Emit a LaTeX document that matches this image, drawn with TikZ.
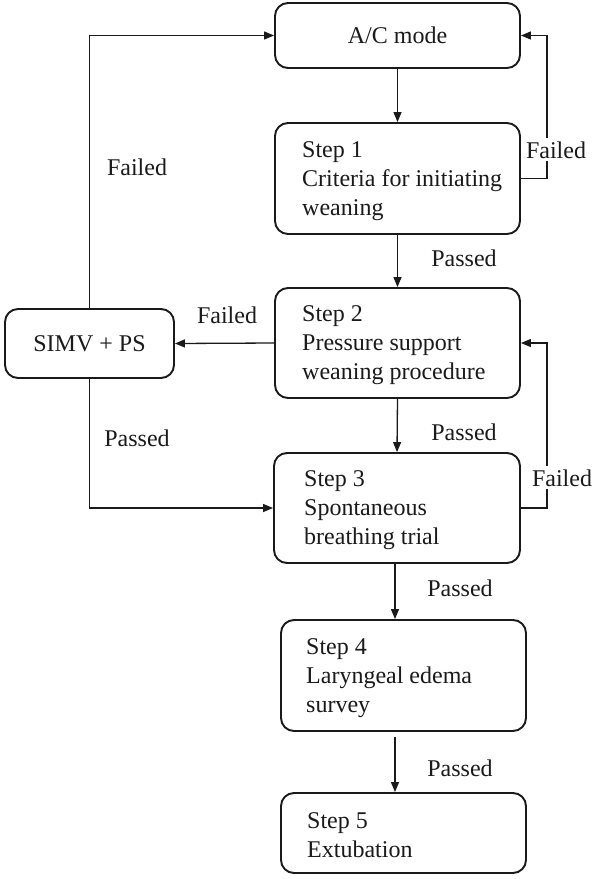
\documentclass[tikz,border=0pt]{standalone}
\usepackage{fontspec}
\setmainfont{Liberation Serif}
\newfontfamily\diagfont{Liberation Serif}
\usetikzlibrary{arrows.meta}
\definecolor{ink}{HTML}{1A1A1A}
\tikzset{
  box/.style={draw=ink, line width=1.9pt, rounded corners=13pt, inner sep=0pt},
  txt/.style={text=ink, font=\diagfont\fontsize{24}{29}\selectfont, align=left, inner sep=0pt},
  lbl/.style={text=ink, font=\diagfont\fontsize{24}{29}\selectfont, inner sep=0pt},
  lblw/.style={lbl, fill=white, inner xsep=2pt, inner ysep=3pt},
  conn/.style={draw=ink, line width=1.3pt},
  arr/.style={conn, -{Triangle[length=10pt,width=8pt]}}
}
\begin{document}
\begin{tikzpicture}[x=1pt,y=-1pt]
\useasboundingbox[fill=white] (0,0) rectangle (598,879);
% boxes
\node[box, minimum width=245, minimum height=65] (ac) at (397.5,35.5) {};
\node[lbl] (act) at (ac.center) {A/C mode};
\node[box, minimum width=245, minimum height=111] (s1) at (397.5,178.5) {};
\node[txt, anchor=west] (s1t) at (302,181) {Step 1\\Criteria for initiating\\weaning};
\node[box, minimum width=245, minimum height=110] (s2) at (397.5,343) {};
\node[txt, anchor=west] (s2t) at (302,345) {Step 2\\Pressure support\\weaning procedure};
\node[box, minimum width=169, minimum height=69] (simv) at (89.5,343.5) {};
\node[lbl] (simvt) at (simv.center) {SIMV + PS};
\node[box, minimum width=246, minimum height=110] (s3) at (397,508) {};
\node[txt, anchor=west] (s3t) at (304,510) {Step 3\\Spontaneous\\breathing trial};
\node[box, minimum width=245, minimum height=111] (s4) at (403.5,675.5) {};
\node[txt, anchor=west] (s4t) at (306,678) {Step 4\\Laryngeal edema\\survey};
\node[box, minimum width=245, minimum height=80] (s5) at (403.5,833) {};
\node[txt, anchor=west] (s5t) at (307,835) {Step 5\\Extubation};
% coordinates
\coordinate (lx) at (89.5,0);
\coordinate (rx) at (547,0);
% main flow
\draw[arr] (ac.south) -- (s1.north);
\draw[arr] (s1.south) -- (s2.north);
\draw[arr] (s2.south) -- (s3.north);
\draw[arr] ([xshift=-2pt]s3.south) -- ([xshift=-2pt]s3.south |- s4.north);
\draw[arr, shorten <=5pt] ([xshift=-8.5pt]s4.south) -- ([xshift=-8.5pt]s5.north);
% left branch
\draw[arr] (s2.west) -- (simv.east);
\draw[arr] (simv.north) -- (lx |- ac.west) -- (ac.west);
\draw[arr] (simv.south) -- (lx |- s3.west) -- (s3.west);
% right loops
\draw[arr] (s1.east) -- (rx |- s1.east) -- (rx |- ac.east) -- (ac.east);
\draw[arr] (s3.east) -- (rx |- s3.east) -- (rx |- s2.east) -- (s2.east);
% labels
\node[lbl, anchor=base] (f1) at (137,175) {Failed};
\node[lbl, anchor=base] (p1) at (464,266) {Passed};
\node[lbl, anchor=base] (f2) at (227,323) {Failed};
\node[lbl, anchor=base] (p2) at (137,446) {Passed};
\node[lbl, anchor=base] (p3) at (464,440) {Passed};
\node[lblw, anchor=base] (f3) at (556,158) {Failed};
\node[lblw, anchor=base] (f4) at (562,486) {Failed};
\node[lbl, anchor=base] (p4) at (460,596) {Passed};
\node[lbl, anchor=base] (p5) at (460,776) {Passed};
\end{tikzpicture}
\end{document}
